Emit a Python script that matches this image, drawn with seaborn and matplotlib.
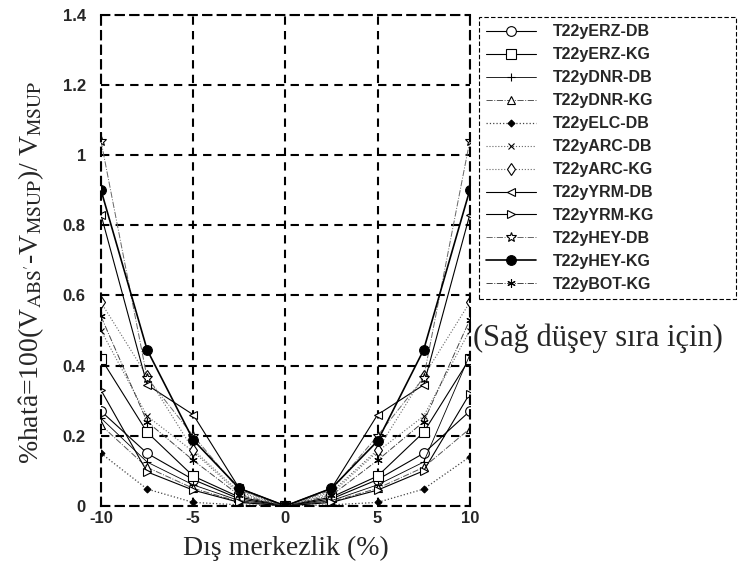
import matplotlib
matplotlib.use("Agg")
import matplotlib.pyplot as plt
import seaborn as sns
import numpy as np

sns.set_theme(style="white")
plt.rcParams['font.family'] = ['Liberation Sans', 'DejaVu Sans']
plt.rcParams['axes.unicode_minus'] = False
plt.rcParams['mathtext.fontset'] = 'stix'

x_vals = [-10, -7.5, -5, -2.5, 0, 2.5, 5, 7.5, 10]
x_ticks = [-10, -5, 0, 5, 10]
x_ticklabels = ["-10", "-5", "0", "5", "10"]
y_ticks = [0, 0.2, 0.4, 0.6, 0.8, 1.0, 1.2, 1.4]
y_ticklabels = ["0", "0.2", "0.4", "0.6", "0.8", "1", "1.2", "1.4"]

series_names = ["T22yERZ-DB", "T22yERZ-KG", "T22yDNR-DB", "T22yDNR-KG",
                "T22yELC-DB", "T22yARC-DB", "T22yARC-KG", "T22yYRM-DB",
                "T22yYRM-KG", "T22yHEY-DB", "T22yHEY-KG", "T22yBOT-KG"]

erz_db = [0.27, 0.15, 0.075, 0.020, 0, 0.020, 0.075, 0.15, 0.27]
erz_kg = [0.42, 0.21, 0.085, 0.025, 0, 0.025, 0.085, 0.21, 0.42]
dnr_db = [0.25, 0.125, 0.060, 0.015, 0, 0.015, 0.060, 0.125, 0.43]
dnr_kg = [0.23, 0.11, 0.050, 0.012, 0, 0.012, 0.050, 0.11, 0.22]
elc_db = [0.15, 0.048, 0.010, 0.003, 0, 0.003, 0.010, 0.048, 0.14]
arc_db = [0.50, 0.256, 0.155, 0.035, 0, 0.035, 0.155, 0.256, 0.50]
arc_kg = [0.58, 0.37, 0.160, 0.040, 0, 0.040, 0.160, 0.37, 0.58]
yrm_db = [0.83, 0.345, 0.26, 0.050, 0, 0.050, 0.26, 0.345, 0.83]
yrm_kg = [0.33, 0.097, 0.045, 0.010, 0, 0.010, 0.045, 0.10, 0.32]
hey_db = [1.04, 0.365, 0.20, 0.045, 0, 0.045, 0.20, 0.365, 1.04]
hey_kg = [0.90, 0.445, 0.188, 0.050, 0, 0.050, 0.185, 0.445, 0.90]
bot_kg = [0.54, 0.24, 0.130, 0.030, 0, 0.030, 0.130, 0.24, 0.53]

all_series = [erz_db, erz_kg, dnr_db, dnr_kg, elc_db, arc_db, arc_kg,
              yrm_db, yrm_kg, hey_db, hey_kg, bot_kg]

styles = [
    dict(marker='o', ms=7, mfc='white', ls='-', color='black', lw=0.8),
    dict(marker='s', ms=7, mfc='white', ls='-', color='black', lw=0.8),
    dict(marker='+', ms=6, mfc='black', ls='-', color='black', lw=0.6),
    dict(marker='^', ms=6, mfc='white', ls='-.', color='#555555', lw=0.7),
    dict(marker='D', ms=3.5, mfc='black', ls=':', color='#444444', lw=0.9),
    dict(marker='x', ms=4.5, mfc='black', ls=':', color='#666666', lw=0.8),
    dict(marker='d', ms=6, mfc='white', ls=':', color='#666666', lw=0.8),
    dict(marker='<', ms=6, mfc='white', ls='-', color='black', lw=0.8),
    dict(marker='>', ms=6, mfc='white', ls='-', color='black', lw=0.8),
    dict(marker='*', ms=7, mfc='white', ls='-.', color='#666666', lw=0.7),
    dict(marker='o', ms=7, mfc='black', ls='-', color='black', lw=1.2),
    dict(marker=(6, 2, 0), ms=6, mfc='black', ls='-.', color='#444444', lw=0.7),
]

fig = plt.figure(figsize=(7.54, 5.71), dpi=100)
ax = fig.add_axes([0.134, 0.114, 0.489, 0.860])

for name, vals, st in zip(series_names, all_series, styles):
    sns.lineplot(x=x_vals, y=vals, ax=ax, label=name, color=st['color'],
                 linestyle=st['ls'], linewidth=st['lw'], marker=st['marker'],
                 markersize=st['ms'], markerfacecolor=st['mfc'],
                 markeredgecolor='black', markeredgewidth=0.8, sort=False)

ax.set_xlim(-10, 10)
ax.set_ylim(0, 1.4)
ax.set_xticks(x_ticks)
ax.set_xticklabels(x_ticklabels)
ax.set_yticks(y_ticks)
ax.set_yticklabels(y_ticklabels)
for lab in ax.get_xticklabels() + ax.get_yticklabels():
    lab.set_fontweight('bold')
    lab.set_fontsize(12)
ax.tick_params(axis='x', length=0, pad=4)
ax.tick_params(axis='y', length=0, pad=11)

ax.grid(True, color='black', linestyle=(0, (4, 3)), linewidth=1.5)
for sp in ax.spines.values():
    sp.set_color('black')
    sp.set_linewidth(1.5)
    sp.set_linestyle((0, (4, 3)))
    sp.set_visible(True)

ax.set_xlabel("Dış merkezlik (%)", fontsize=20, family=['Liberation Serif', 'DejaVu Serif'], labelpad=7)
ax.set_ylabel(r"%hatâ=100(V$_{\mathrm{ABS'}}$-V$_{\mathrm{MSUP}}$)/ V$_{\mathrm{MSUP}}$",
              fontsize=20, family=['Liberation Serif', 'DejaVu Serif'])
ax.yaxis.set_label_coords(-0.148, 0.475)

leg = ax.legend(loc='upper left', bbox_to_anchor=(479/754, 1 - 17/571, (736-479)/754, 0.0),
                bbox_transform=fig.transFigure, mode='expand', frameon=True, fancybox=False,
                edgecolor='black', framealpha=1, borderpad=0.45, labelspacing=0.5,
                handlelength=3.1, handletextpad=1.1, borderaxespad=0,
                prop={'weight': 'bold', 'size': 11.5})
leg.get_frame().set_linewidth(0.8)
leg.get_frame().set_linestyle((0, (4, 2)))

fig.text(598/754, 1 - 338/571, "(Sağ düşey sıra için)", fontsize=22,
         family=['Liberation Serif', 'DejaVu Serif'], ha='center', va='center')

fig.savefig("out.png", dpi=100)
